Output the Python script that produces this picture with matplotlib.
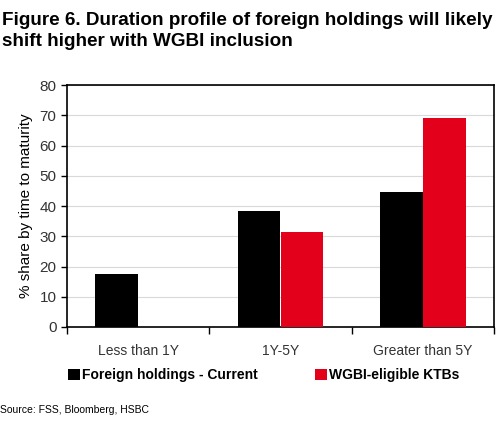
import matplotlib.pyplot as plt
import numpy as np

plt.rcParams['font.family'] = ['Liberation Sans', 'DejaVu Sans']

categories = ['Less than 1Y', '1Y-5Y', 'Greater than 5Y']
foreign_current = [17.5, 38.3, 44.6]
wgbi_eligible = [0, 31.4, 69.1]
series_names = ['Foreign holdings - Current', 'WGBI-eligible KTBs']
yticks = [0, 10, 20, 30, 40, 50, 60, 70, 80]

black = '#000000'
red = '#e2001a'

fig = plt.figure(figsize=(5, 4.28), dpi=100)
ax = fig.add_axes([0.134, 0.236, 0.854, 0.565])

x = np.arange(len(categories))
w = 0.3
ax.bar(x - w / 2, foreign_current, w, color=black, label=series_names[0], zorder=3)
ax.bar(x + w / 2, wgbi_eligible, w, color=red, label=series_names[1], zorder=3)

ax.set_xlim(-0.5, len(categories) - 0.5)
ax.set_ylim(0, 80)
ax.set_yticks(yticks)
ax.yaxis.grid(True, color='#d9d9d9', linewidth=0.8, zorder=0)
ax.set_xticks(x)
ax.set_xticklabels(categories, fontsize=10, color='#333333')
ax.tick_params(axis='x', length=0, pad=12)
ax.set_xticks(np.arange(len(categories) + 1) - 0.5, minor=True)
ax.tick_params(axis='x', which='minor', length=5, width=1, direction='out')
ax.tick_params(axis='y', length=4, width=1, labelsize=11, labelcolor='#333333')
for s in ax.spines.values():
    s.set_linewidth(1.2)
ax.set_ylabel('% share by time to maturity', fontsize=11, labelpad=5)

fig.text(0.004, 0.972, 'Figure 6. Duration profile of foreign holdings will likely\nshift higher with WGBI inclusion',
         fontsize=13.6, fontweight='bold', va='top', ha='left', linespacing=1.3)

leg = fig.legend(loc='center left', bbox_to_anchor=(68 / 500, 1 - 375 / 428), ncol=2, frameon=False,
                 fontsize=10, handlelength=0.86, handleheight=0.86, handletextpad=0.15,
                 columnspacing=4.1, borderpad=0, borderaxespad=0)
for t in leg.get_texts():
    t.set_fontweight('bold')

fig.text(0.0, 0.042, 'Source: FSS, Bloomberg, HSBC', fontsize=7.5, ha='left', va='center')

fig.savefig('out.png', dpi=100)
